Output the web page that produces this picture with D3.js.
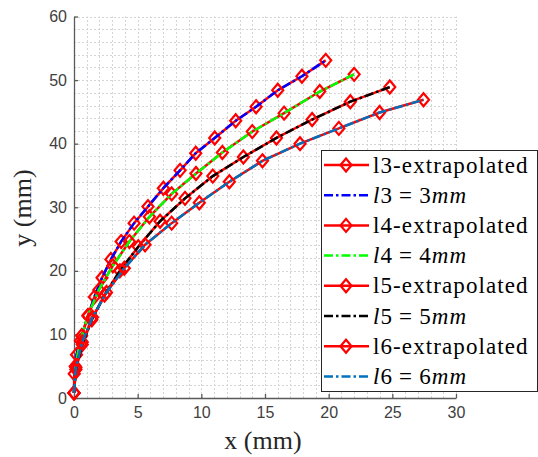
<!DOCTYPE html>
<html>
<head>
<meta charset="utf-8">
<script src="https://cdn.jsdelivr.net/npm/d3@7"></script>
<style>
  body { margin: 0; background: #fff; }
  svg { display: block; }
  .tick text { font-family: 'Liberation Sans', Arial, sans-serif; font-size: 16px; fill: #404040; }
  .serif { font-family: 'Liberation Serif', 'DejaVu Serif', 'Times New Roman', serif; }
</style>
</head>
<body>
<svg></svg>
<script>
const width = 538;
const height = 457;
const margin = { top: 16.5, right: 82, bottom: 59, left: 74 };

// curves, points (x, y in mm)
const l3X = [0, 0.02, 0.2, 0.6, 1.1, 1.6, 2.2, 2.9, 3.7, 4.72, 5.81, 7.02, 8.33, 9.56, 11.05, 12.7, 14.3, 16.0, 17.9, 19.77];
const l3Y = [0.8, 3.8, 6.8, 9.8, 12.9, 15.9, 18.9, 21.8, 24.6, 27.5, 30.1, 33.0, 35.8, 38.5, 40.9, 43.6, 45.8, 48.4, 50.6, 53.1];
const l4X = [0, 0.1, 0.5, 1.1, 1.95, 3.05, 4.35, 5.92, 7.67, 9.58, 11.65, 14.0, 16.5, 19.3, 22.0];
const l4Y = [0.8, 5.0, 9.0, 13.0, 17.0, 20.8, 24.6, 28.5, 32.1, 35.3, 38.6, 41.9, 44.8, 48.2, 50.9];
const l5X = [0, 0.15, 0.65, 1.4, 2.4, 3.6, 5.05, 6.76, 8.72, 10.9, 13.3, 15.9, 18.7, 21.7, 24.8];
const l5Y = [0.8, 4.5, 8.4, 12.3, 16.2, 20.0, 23.8, 27.8, 31.4, 34.9, 37.9, 40.9, 43.8, 46.6, 48.9];
const l6X = [0, 0.15, 0.65, 1.45, 2.55, 3.95, 5.58, 7.67, 9.84, 12.2, 14.8, 17.75, 20.8, 24.0, 27.45];
const l6Y = [0.8, 4.8, 8.8, 12.7, 16.6, 20.4, 24.1, 27.5, 30.7, 34.0, 37.3, 40.0, 42.4, 44.9, 46.9];

const xTicks = [0, 5, 10, 15, 20, 25, 30];
const yTicks = [0, 10, 20, 30, 40, 50, 60];
const seriesNames = ['l3', 'l4', 'l5', 'l6'];
const seriesColors = ['#0000ff', '#00ff00', '#000000', '#0072bd'];
const seriesLengths = [3, 4, 5, 6];

const series = [[l3X, l3Y], [l4X, l4Y], [l5X, l5Y], [l6X, l6Y]]
  .map(([xs, ys]) => xs.map((x, i) => ({ x: x, y: ys[i] })));

const svg = d3.select('svg')
  .attr('width', width)
  .attr('height', height);

const xScale = d3.scaleLinear()
  .domain([0, 30])
  .range([margin.left, width - margin.right]);

const yScale = d3.scaleLinear()
  .domain([0, 60])
  .range([height - margin.bottom, margin.top]);

// grid, major and minor look the same here
const grid = svg.append('g')
  .attr('stroke', '#d4d4d4')
  .attr('stroke-width', 1)
  .attr('stroke-dasharray', '2,2');

grid.selectAll('.gx')
  .data(d3.range(1, 31))
  .enter().append('line')
  .attr('x1', d => Math.round(xScale(d)) + 0.5)
  .attr('x2', d => Math.round(xScale(d)) + 0.5)
  .attr('y1', yScale(0))
  .attr('y2', yScale(60));

grid.selectAll('.gy')
  .data(d3.range(2, 61, 2))
  .enter().append('line')
  .attr('y1', d => Math.round(yScale(d)) + 0.5)
  .attr('y2', d => Math.round(yScale(d)) + 0.5)
  .attr('x1', xScale(0))
  .attr('x2', xScale(30));

const xAxis = d3.axisBottom(xScale).tickValues(xTicks).tickSizeInner(-4).tickSizeOuter(0).tickPadding(9);
const yAxis = d3.axisLeft(yScale).tickValues(yTicks).tickSizeInner(-4).tickSizeOuter(0).tickPadding(7);

svg.append('g')
  .attr('id', 'x-axis')
  .attr('transform', `translate(0,${height - margin.bottom})`)
  .call(xAxis);

svg.append('g')
  .attr('id', 'y-axis')
  .attr('transform', `translate(${margin.left},0)`)
  .call(yAxis);

svg.selectAll('.domain, .tick line')
  .attr('stroke', '#5a5a5a')
  .attr('stroke-width', 1.3);

const line = d3.line()
  .x(d => xScale(d.x))
  .y(d => yScale(d.y));

const diamond = 'M0,-6.5L5.5,0L0,6.5L-5.5,0Z';
const dashDot = '9,3,2.5,3';

series.forEach((pts, i) => {
  svg.append('path')
    .datum(pts)
    .attr('fill', 'none')
    .attr('stroke', '#ff0000')
    .attr('stroke-width', 2.5)
    .attr('d', line);

  svg.selectAll('.m' + i)
    .data(pts)
    .enter().append('path')
    .attr('d', diamond)
    .attr('transform', d => `translate(${xScale(d.x)},${yScale(d.y)})`)
    .attr('fill', 'none')
    .attr('stroke', '#ff0000')
    .attr('stroke-width', 2.2);

  svg.append('path')
    .datum(pts)
    .attr('fill', 'none')
    .attr('stroke', seriesColors[i])
    .attr('stroke-width', 2.5)
    .attr('stroke-dasharray', dashDot)
    .attr('d', line);
});

// axis labels
svg.append('text')
  .attr('class', 'serif')
  .attr('x', 263)
  .attr('y', 449)
  .attr('text-anchor', 'middle')
  .attr('font-size', 26)
  .attr('fill', '#262626')
  .text('x (mm)');

svg.append('text')
  .attr('class', 'serif')
  .attr('transform', 'translate(31,208) rotate(-90)')
  .attr('text-anchor', 'middle')
  .attr('font-size', 26)
  .attr('fill', '#262626')
  .text('y (mm)');

// legend
const legend = svg.append('g').attr('transform', 'translate(321,150)');

legend.append('rect')
  .attr('x', 0.5)
  .attr('y', 0.5)
  .attr('width', 216)
  .attr('height', 241)
  .attr('fill', '#fff')
  .attr('stroke', '#262626')
  .attr('stroke-width', 1);

const rows = [];
seriesNames.forEach((n, i) => {
  rows.push({ kind: 'ext', name: n, color: '#ff0000' });
  rows.push({ kind: 'meas', name: n, len: seriesLengths[i], color: seriesColors[i] });
});

const rowH = 30.2;
const item = legend.selectAll('.item')
  .data(rows)
  .enter().append('g')
  .attr('transform', (d, i) => `translate(0,${15 + i * rowH})`);

item.append('line')
  .attr('x1', 3)
  .attr('x2', 48)
  .attr('stroke', d => d.color)
  .attr('stroke-width', 2.5)
  .attr('stroke-dasharray', d => d.kind === 'meas' ? dashDot : null);

item.filter(d => d.kind === 'ext').append('path')
  .attr('d', diamond)
  .attr('transform', 'translate(25,0)')
  .attr('fill', 'none')
  .attr('stroke', '#ff0000')
  .attr('stroke-width', 2.2);

const label = item.append('text')
  .attr('class', 'serif')
  .attr('x', 52)
  .attr('y', 7.5)
  .attr('font-size', 23)
  .attr('letter-spacing', 1.1)
  .attr('fill', '#000');

label.filter(d => d.kind === 'ext')
  .text(d => d.name + '-extrapolated');

label.filter(d => d.kind === 'meas').each(function(d) {
  const t = d3.select(this);
  t.append('tspan').attr('font-style', 'italic').text('l');
  t.append('tspan').text(d.name.slice(1));
  t.append('tspan').attr('dx', 6).text('=');
  t.append('tspan').attr('dx', 6).text(d.len);
  t.append('tspan').attr('font-style', 'italic').text('mm');
});
</script>
</body>
</html>
